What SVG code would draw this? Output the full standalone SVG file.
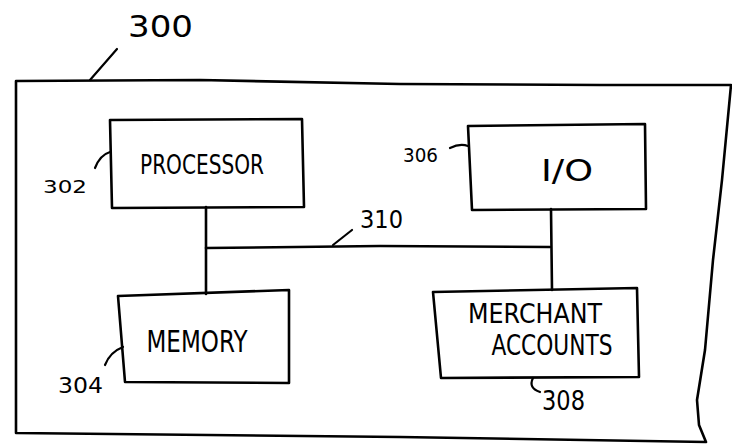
<svg xmlns="http://www.w3.org/2000/svg" width="732" height="445" viewBox="0 0 732 445">
<style>
.ln{fill:none;stroke:#000;stroke-width:2.6;stroke-linejoin:round;stroke-linecap:round}
.ld{fill:none;stroke:#000;stroke-width:2.2;stroke-linecap:round}
.t{font-family:"DejaVu Sans","Liberation Sans",sans-serif;fill:#000}
</style>
<rect width="732" height="445" fill="#fff"/>
<g id="system-300">
<path class="ln" d="M16,81 L200,80 L400,84 L600,85 L731,85 L722,180 L713,260 L705,350 L697,400 L699,425 L706,442 L400,437 L16,433 Z"/>
<path class="ld" d="M90,80 L117,49"/>
<text class="t" x="128" y="37" font-size="30" textLength="65" lengthAdjust="spacingAndGlyphs">300</text>
</g>
<g id="connectors">
<path class="ln" d="M206,207 L206,294"/>
<path class="ln" d="M206,248 L380,246 L550,247"/>
<path class="ln" d="M551,209 L552,290"/>
<path class="ld" d="M333,245 L352,230"/>
<text class="t" x="360" y="228" font-size="24" textLength="43" lengthAdjust="spacingAndGlyphs">310</text>
</g>
<g id="processor-302">
<path class="ln" d="M110,120 L302,119 L304,207 L112,208 Z"/>
<text class="t" x="202" y="174" font-size="27" text-anchor="middle" textLength="124" lengthAdjust="spacingAndGlyphs">PROCESSOR</text>
<path class="ld" d="M95,168 Q100,155 110,152"/>
<text class="t" x="43" y="193" font-size="18" textLength="44" lengthAdjust="spacingAndGlyphs">302</text>
</g>
<g id="io-306">
<path class="ln" d="M468,126 L645,124 L646,209 L472,210 Z"/>
<text class="t" x="567" y="181" font-size="30" text-anchor="middle" textLength="52" lengthAdjust="spacingAndGlyphs">I/O</text>
<path class="ld" d="M450,148 Q460,143 468,146"/>
<text class="t" x="403" y="162" font-size="19" textLength="35" lengthAdjust="spacingAndGlyphs">306</text>
</g>
<g id="memory-304">
<path class="ln" d="M118,296 L289,290 L289,383 L125,382 Z"/>
<text class="t" x="197" y="352" font-size="30" text-anchor="middle" textLength="101" lengthAdjust="spacingAndGlyphs">MEMORY</text>
<path class="ld" d="M105,365 Q110,352 123,347"/>
<text class="t" x="58" y="393" font-size="22" textLength="45" lengthAdjust="spacingAndGlyphs">304</text>
</g>
<g id="merchant-accounts-308">
<path class="ln" d="M433,292 L637,288 L639,377 L441,378 Z"/>
<text class="t" x="535" y="323" font-size="27" text-anchor="middle" textLength="134" lengthAdjust="spacingAndGlyphs">MERCHANT</text>
<text class="t" x="552" y="355" font-size="28" text-anchor="middle" textLength="121" lengthAdjust="spacingAndGlyphs">ACCOUNTS</text>
<path class="ld" d="M533,378 Q528,388 540,392"/>
<text class="t" x="542" y="410" font-size="26" textLength="43" lengthAdjust="spacingAndGlyphs">308</text>
</g>
</svg>
